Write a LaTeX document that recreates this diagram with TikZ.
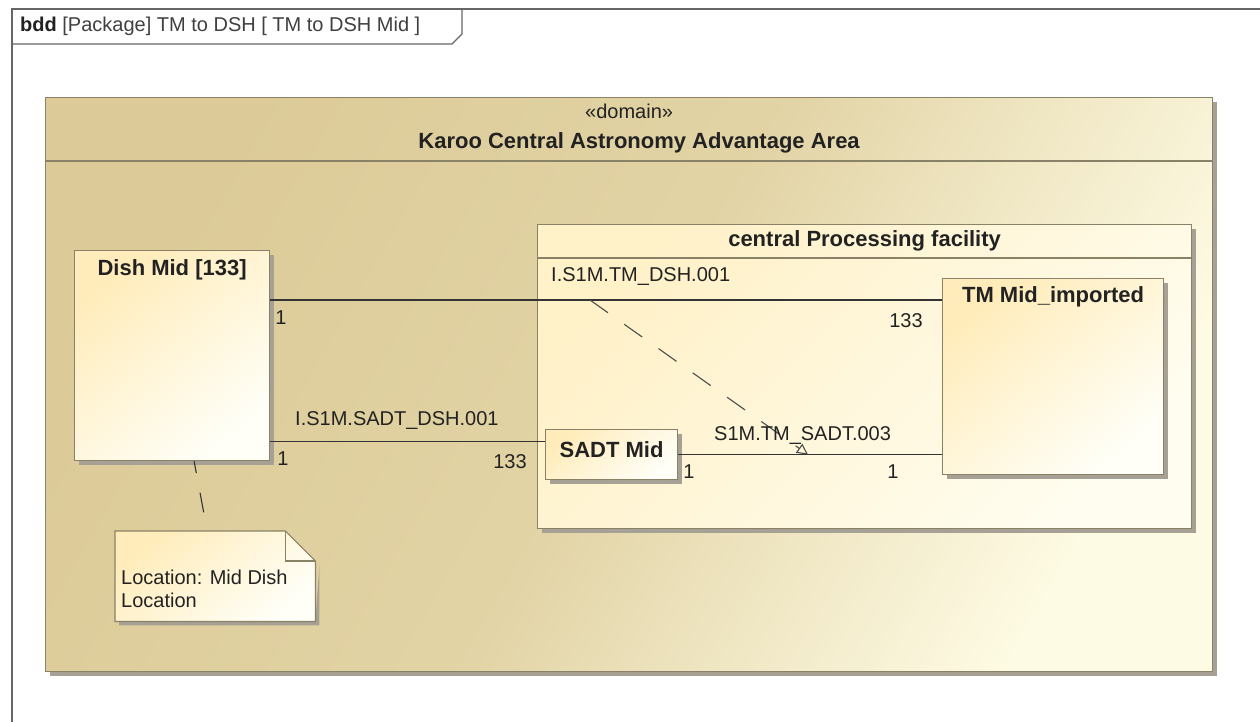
\documentclass[tikz,border=0pt]{standalone}
\usepackage{fontspec}
\setmainfont{Liberation Sans}
\usetikzlibrary{arrows.meta,calc,positioning,shadows}
\definecolor{edge}{HTML}{8A8266}
\definecolor{ink}{HTML}{222222}
\definecolor{tanA}{HTML}{DCCB98}
\definecolor{tanB}{HTML}{FEFBE4}
\definecolor{partA}{HTML}{FFECBA}
\definecolor{partB}{HTML}{FFFFF8}
\definecolor{facA}{HTML}{FFF1C8}
\definecolor{facB}{HTML}{FFFDEF}
\definecolor{shadowgray}{HTML}{A7A195}
\tikzset{
  font=\fontsize{20}{23}\selectfont,
  >=Latex,
  frame/.style={draw=black!60, line width=1.4pt},
  boxline/.style={draw=edge, line width=1.2pt},
  shadowed/.style={drop shadow={shadow xshift=4pt, shadow yshift=-4pt, fill=shadowgray, opacity=1}},
  areabox/.style={boxline, anchor=north west, inner sep=0pt, shadowed,
    top color=tanA, bottom color=tanB, middle color=tanA!82!tanB, shading angle=60},
  facbox/.style={boxline, anchor=north west, inner sep=0pt, shadowed,
    top color=facA, bottom color=facB, shading angle=45},
  partbox/.style={boxline, anchor=north west, inner sep=0pt, shadowed,
    top color=partA, bottom color=partB, shading angle=40},
  boldtxt/.style={font=\fontsize{22}{26}\selectfont\bfseries, text=ink, inner sep=1pt},
  txt/.style={text=ink, inner sep=1pt},
  conn/.style={draw=black!80, line width=1.1pt},
  notelink/.style={draw=black!80, line width=1.1pt, dash pattern=on 20pt off 20pt, dash phase=8pt},
  flowlink/.style={draw=black!70, line width=1.1pt, dash pattern=on 22pt off 20pt,
    -{Triangle[open, length=11pt, width=11pt]}},
}
\begin{document}
\begin{tikzpicture}[x=1pt,y=-1pt]
\useasboundingbox (0,0) rectangle (1260,722);
\fill[white] (0,0) rectangle (1260,722);
% diagram frame + name tab
\draw[frame] (12,722) -- (12,9) -- (1260,9);
\draw[frame] (12,44) -- (452,44) -- (462,34) -- (462,9);
\node[anchor=west, text=ink, inner sep=0pt] (tab) at (20,26)
  {\textbf{bdd} \textcolor{black!75}{[Package] TM to DSH [ TM to DSH Mid ]}};
% domain block
\node[areabox, minimum width=1167, minimum height=574] (karoo) at (45,97) {};
\draw[boxline] ($(karoo.north west)+(0,64)$) -- ($(karoo.north east)+(0,64)$);
\node[txt] (karooS) at ($(karoo.north)+(0,14)$) {«domain»};
\node[boldtxt] (karooT) at ($(karoo.north)+(10,46)$) {Karoo Central Astronomy Advantage Area};
% central processing facility
\node[facbox, minimum width=654, minimum height=304] (cpf) at (537,224) {};
\draw[boxline] ($(cpf.north west)+(0,34)$) -- ($(cpf.north east)+(0,34)$);
\node[boldtxt] (cpfT) at ($(cpf.north)+(0,17)$) {central Processing facility};
% parts
\node[partbox, minimum width=195, minimum height=210] (dish) at (74,250) {};
\node[boldtxt] (dishT) at ($(dish.north)+(0,20)$) {Dish Mid [133]};
\node[partbox, minimum width=221, minimum height=196] (tm) at (942,278) {};
\node[boldtxt] (tmT) at ($(tm.north)+(0,19)$) {TM Mid\_imported};
\node[partbox, minimum width=132, minimum height=50] (sadt) at (545,429) {};
\node[boldtxt] (sadtT) at ($(sadt.north)+(0,21)$) {SADT Mid};
% note
\node[minimum width=200, minimum height=90, anchor=north west, inner sep=0pt] (note) at (115,531) {};
\fill[shadowgray] ($(note.north east)+(4,34)$) -- ($(note.south east)+(4,4)$) -- ($(note.south west)+(4,4)$) -- ($(note.south west)+(4,0)$) -- (note.south east) -- cycle;
\shade[boxline, top color=partA, bottom color=partB, shading angle=40]
  (note.north west) -- ($(note.north east)+(-30,0)$) -- ($(note.north east)+(0,30)$)
  -- (note.south east) -- (note.south west) -- cycle;
\draw[boxline] ($(note.north east)+(-30,0)$) -- ($(note.north east)+(-30,30)$) -- ($(note.north east)+(0,30)$);
\node[txt, anchor=north west, align=left] (noteT) at ($(note.north west)+(5,38)$)
  {Location: Mid Dish\\Location};
\draw[notelink] ($(dish.south)+(22,0)$) -- ($(note.north)+(-8,0)$);
% connectors
\draw[conn] ($(dish.north east)+(0,50)$) coordinate (d1) -- (d1 -| tm.west);
\draw[conn] ($(dish.south east)+(0,-20)$) coordinate (d2) -- (d2 -| sadt.west);
\draw[conn] (sadt.east) -- (sadt.east -| tm.west);
\draw[flowlink] (d1 -| 590,0) -- (sadt.east -| 808,0);
% role names + multiplicities
\node[txt, anchor=west] (n1) at (550,277) {I.S1M.TM\_DSH.001};
\node[txt] (m1a) at (281,318) {1};
\node[txt] (m1b) at (906,321) {133};
\node[txt, anchor=west] (n2) at (294,421) {I.S1M.SADT\_DSH.001};
\node[txt] (m2a) at (283,459) {1};
\node[txt] (m2b) at (510,462) {133};
\node[txt, anchor=west] (n3) at (713,436) {S1M.TM\_SADT.003};
\node[txt] (m3a) at (689,472) {1};
\node[txt] (m3b) at (893,472) {1};
\end{tikzpicture}
\end{document}
